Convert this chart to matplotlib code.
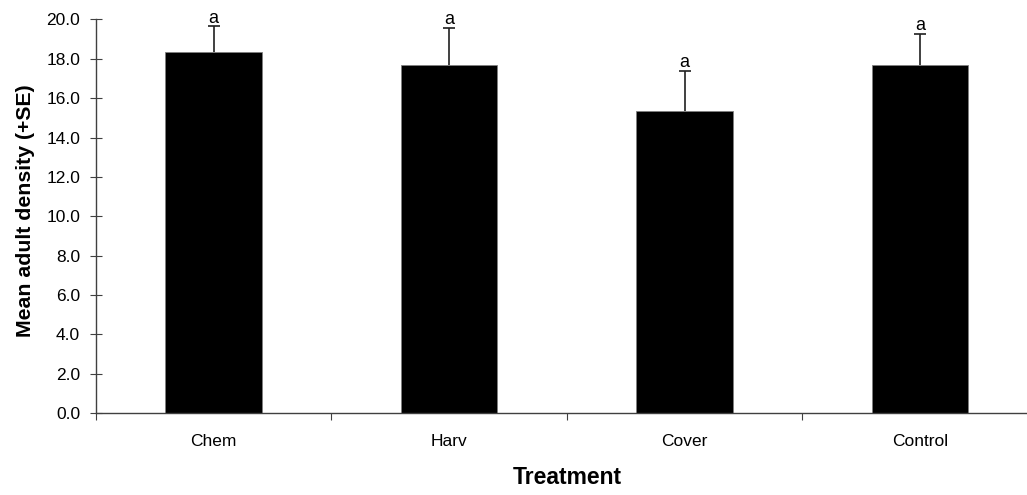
import matplotlib.pyplot as plt
import numpy as np

# data
treatments = ["Chem", "Harv", "Cover", "Control"]
mean_density = [18.35, 17.66, 15.37, 17.67]
se_density = [1.30, 1.91, 2.03, 1.61]
letters = ["a", "a", "a", "a"]

plt.rcParams["font.family"] = ["Liberation Sans", "DejaVu Sans"]

fig = plt.figure(figsize=(10.27, 4.95), dpi=100)
ax = fig.add_axes([0.0935, 0.1657, 0.917, 0.795])

x = np.arange(len(treatments))
ax.bar(x, mean_density, width=0.41, color="black", edgecolor="#808080", linewidth=0.6, zorder=2)
eb = ax.errorbar(x, mean_density, yerr=[np.zeros(len(x)), se_density], fmt="none",
                 ecolor="#202020", elinewidth=1.2, capsize=4.3, capthick=1.2, zorder=3)
# only the upper cap is drawn in the original
eb[1][0].set_visible(False)

for xi, m, s, lab in zip(x, mean_density, se_density, letters):
    ax.text(xi, m + s - 0.02, lab, ha="center", va="bottom", fontsize=13)

ax.set_xlim(-0.5, len(treatments) - 0.5)
ax.set_ylim(0, 20)
ax.set_yticks(np.arange(0, 20.1, 2))
ax.set_yticklabels([f"{v:.1f}" for v in np.arange(0, 20.1, 2)])

# major ticks between categories, labels as minor ticks
ax.set_xticks(np.arange(-0.5, len(treatments), 1.0))
ax.set_xticklabels([])
ax.set_xticks(x, minor=True)
ax.set_xticklabels(treatments, minor=True)
ax.tick_params(axis="x", which="minor", length=0, pad=15, labelsize=12.5)
ax.tick_params(axis="x", which="major", direction="out", length=5, color="#404040")
ax.tick_params(axis="y", direction="inout", length=9, color="#404040", labelsize=12.5, pad=7)

for side in ["top", "right"]:
    ax.spines[side].set_visible(False)
for side in ["left", "bottom"]:
    ax.spines[side].set_color("#404040")
    ax.spines[side].set_linewidth(1.0)

ax.set_ylabel("Mean adult density (+SE)", fontsize=15.3, fontweight="bold")
ax.yaxis.set_label_coords(-0.065, 0.513)
ax.set_xlabel("Treatment", fontsize=16.5, fontweight="bold")
ax.xaxis.set_label_coords(0.5, -0.135)

fig.savefig("out.png", dpi=100)
